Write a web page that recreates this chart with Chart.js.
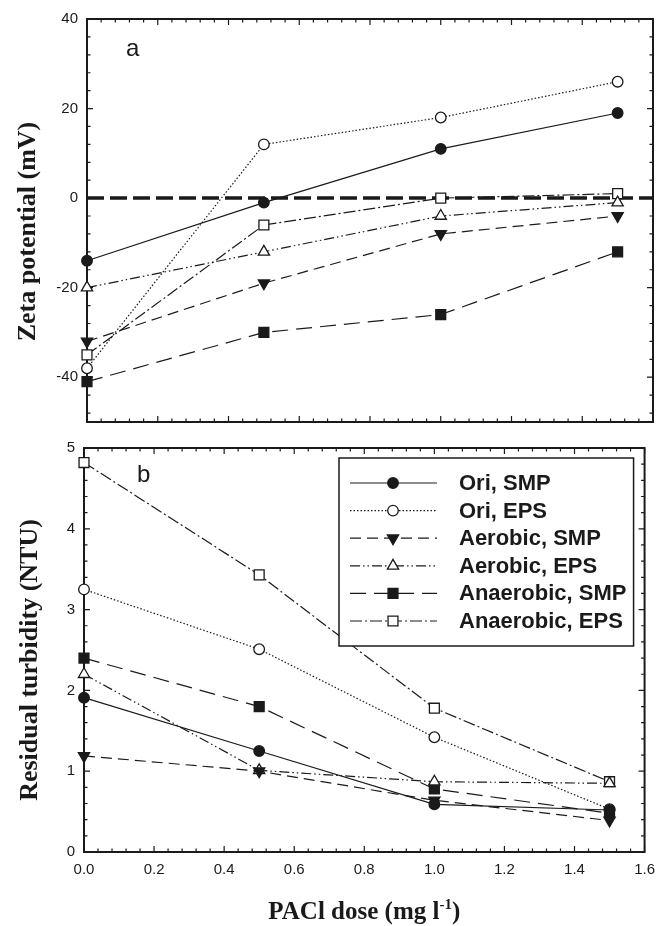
<!DOCTYPE html>
<html><head><meta charset="utf-8">
<script src="https://cdn.jsdelivr.net/npm/chart.js@4/dist/chart.umd.min.js"></script>
<style>
html,body{margin:0;padding:0;background:#fff;}
#wrap{position:relative;width:664px;height:926px;overflow:hidden;background:#fff;}
canvas{position:absolute;left:0;}
#c1{top:0;}
#c2{top:430px;}
</style></head><body>
<div id="wrap">
<canvas id="c1" width="664" height="440" style="width:664px;height:440px"></canvas>
<canvas id="c2" width="664" height="496" style="width:664px;height:496px"></canvas>
</div>
<script>
// ---------------- data ----------------
const doses = [0, 0.5, 1.0, 1.5];
const seriesNames = ['Ori, SMP', 'Ori, EPS', 'Aerobic, SMP', 'Aerobic, EPS', 'Anaerobic, SMP', 'Anaerobic, EPS'];

const zetaOriSMP = [-14, -1, 11, 19];
const zetaOriEPS = [-38, 12, 18, 26];
const zetaAerSMP = [-32, -19, -8, -4];
const zetaAerEPS = [-20, -12, -4, -1];
const zetaAnaSMP = [-41, -30, -26, -12];
const zetaAnaEPS = [-35, -6, 0, 1];

const turbOriSMP = [1.91, 1.25, 0.59, 0.52];
const turbOriEPS = [3.25, 2.51, 1.42, 0.53];
const turbAerSMP = [1.19, 1.00, 0.64, 0.39];
const turbAerEPS = [2.20, 1.01, 0.87, 0.85];
const turbAnaSMP = [2.40, 1.80, 0.78, 0.48];
const turbAnaEPS = [4.82, 3.43, 1.78, 0.87];

const zeroLineValue = 0;
const xTickValues = [0, 0.2, 0.4, 0.6, 0.8, 1.0, 1.2, 1.4, 1.6];
const zetaTickValues = [-40, -20, 0, 20, 40];
const turbTickValues = [0, 1, 2, 3, 4, 5];
const xLimits = [0, 1.6];
const zetaLimits = [-50, 40];
const turbLimits = [0, 5];

// ---------------- styles ----------------
const seriesStyles = [
  { pointStyle: 'circle',   filled: true,  radius: 5.3, rotation: 0,   dash: [] },
  { pointStyle: 'circle',   filled: false, radius: 5.3, rotation: 0,   dash: [1.5, 2] },
  { pointStyle: 'triangle', filled: true,  radius: 6.5, rotation: 180, dash: [11, 6] },
  { pointStyle: 'triangle', filled: false, radius: 6.5, rotation: 0,   dash: [10, 3, 1.5, 3, 1.5, 3] },
  { pointStyle: 'rect',     filled: true,  radius: 7,   rotation: 0,   dash: [16, 8] },
  { pointStyle: 'rect',     filled: false, radius: 7,   rotation: 0,   dash: [12, 3, 2, 3] }
];
const INK = '#1a1a1a';

function makeDatasets(seriesList) {
  return seriesList.map((vals, i) => {
    const s = seriesStyles[i];
    return {
      label: seriesNames[i],
      data: doses.map((d, k) => ({ x: d, y: vals[k] })),
      borderColor: INK,
      borderWidth: 1.2,
      borderDash: s.dash,
      pointStyle: s.pointStyle,
      pointRadius: s.radius,
      pointRotation: s.rotation,
      pointBackgroundColor: s.filled ? INK : '#fff',
      pointBorderColor: INK,
      pointBorderWidth: 1.3,
      fill: false,
      tension: 0,
      clip: false
    };
  });
}

function countSteps(min, max, step) { return Math.round((max - min) / step); }

function frameTicksPlugin(xMinor, xMajor, yMinor, yMajor) {
  return {
    id: 'frameTicks',
    beforeDatasetsDraw(chart) {
      const { ctx, chartArea: a, scales } = chart;
      const x = scales.x, y = scales.y;
      ctx.save();
      ctx.strokeStyle = INK;
      ctx.lineWidth = 1.2;
      ctx.beginPath();
      const nx = countSteps(x.min, x.max, xMinor);
      for (let i = 0; i <= nx; i++) {
        const v = x.min + i * xMinor;
        const r = v / xMajor;
        const major = Math.abs(r - Math.round(r)) < 1e-6;
        const len = major ? 6 : 3.5;
        const px = x.getPixelForValue(v);
        ctx.moveTo(px, a.bottom); ctx.lineTo(px, a.bottom - len);
        ctx.moveTo(px, a.top); ctx.lineTo(px, a.top + len);
      }
      const first = Math.ceil(y.min / yMinor) * yMinor;
      const ny = Math.floor((y.max - first) / yMinor + 1e-6);
      for (let i = 0; i <= ny; i++) {
        const v = first + i * yMinor;
        const r = v / yMajor;
        const major = Math.abs(r - Math.round(r)) < 1e-6;
        const len = major ? 6 : 3.5;
        const py = y.getPixelForValue(v);
        ctx.moveTo(a.left, py); ctx.lineTo(a.left + len, py);
        ctx.moveTo(a.right, py); ctx.lineTo(a.right - len, py);
      }
      ctx.stroke();
      ctx.lineWidth = 2;
      ctx.strokeRect(a.left, a.top, a.right - a.left, a.bottom - a.top);
      ctx.restore();
    }
  };
}

function drawMarker(ctx, s, x, y) {
  ctx.save();
  ctx.fillStyle = s.filled ? INK : '#fff';
  ctx.strokeStyle = INK;
  ctx.lineWidth = 1.3;
  ctx.setLineDash([]);
  ctx.beginPath();
  const r = s.radius;
  if (s.pointStyle === 'circle') {
    ctx.arc(x, y, r, 0, Math.PI * 2);
  } else if (s.pointStyle === 'rect') {
    const h = r * Math.SQRT1_2;
    ctx.rect(x - h, y - h, 2 * h, 2 * h);
  } else {
    let rad = s.rotation * Math.PI / 180;
    for (let k = 0; k < 3; k++) {
      const px = x + Math.sin(rad) * r, py = y - Math.cos(rad) * r;
      if (k === 0) ctx.moveTo(px, py); else ctx.lineTo(px, py);
      rad += 2 * Math.PI / 3;
    }
    ctx.closePath();
  }
  ctx.fill();
  ctx.stroke();
  ctx.restore();
}

function yTitle(ctx, text, cx, cy) {
  ctx.save();
  ctx.translate(cx, cy);
  ctx.rotate(-Math.PI / 2);
  ctx.font = 'bold 26px "Liberation Serif", "Times New Roman", serif';
  ctx.fillStyle = INK;
  ctx.textAlign = 'center';
  ctx.textBaseline = 'middle';
  ctx.fillText(text, 0, 0);
  ctx.restore();
}

const tickFont = { family: '"Liberation Sans", Arial, sans-serif', size: 15 };

// ---------------- top chart (a) ----------------
const zetaSeries = [zetaOriSMP, zetaOriEPS, zetaAerSMP, zetaAerEPS, zetaAnaSMP, zetaAnaEPS];
const topDatasets = makeDatasets(zetaSeries);
topDatasets.push({
  label: 'zero',
  data: xLimits.map(v => ({ x: v, y: zeroLineValue })),
  borderColor: INK,
  borderWidth: 3.5,
  borderDash: [17, 6],
  pointRadius: 0,
  fill: false,
  clip: false
});

new Chart(document.getElementById('c1'), {
  type: 'line',
  data: { datasets: topDatasets },
  options: {
    responsive: false,
    animation: false,
    layout: { padding: { top: 19, right: 11, bottom: 9, left: 0 } },
    plugins: { legend: { display: false }, tooltip: { enabled: false } },
    scales: {
      x: { type: 'linear', min: xLimits[0], max: xLimits[1], display: false },
      y: {
        type: 'linear', min: zetaLimits[0], max: zetaLimits[1],
        afterBuildTicks: (sc) => { sc.ticks = zetaTickValues.map(v => ({ value: v })); },
        afterFit: (sc) => { sc.width = 87; },
        grid: { display: false, drawTicks: false },
        border: { display: false },
        ticks: { font: tickFont, color: INK, padding: 9 }
      }
    }
  },
  plugins: [frameTicksPlugin(0.04, 0.2, 4, 20), {
    id: 'decor',
    afterDraw(chart) {
      const { ctx, chartArea: a } = chart;
      yTitle(ctx, 'Zeta potential (mV)', 28, (a.top + a.bottom) / 2 + 11);
      ctx.save();
      ctx.font = '24px "Liberation Sans", Arial, sans-serif';
      ctx.fillStyle = INK;
      ctx.textAlign = 'left';
      ctx.textBaseline = 'alphabetic';
      ctx.fillText('a', a.left + 39, a.top + 37);
      ctx.restore();
    }
  }]
});

// ---------------- bottom chart (b) ----------------
const turbSeries = [turbOriSMP, turbOriEPS, turbAerSMP, turbAerEPS, turbAnaSMP, turbAnaEPS];
const bottomDatasets = makeDatasets(turbSeries);

new Chart(document.getElementById('c2'), {
  type: 'line',
  data: { datasets: bottomDatasets },
  options: {
    responsive: false,
    animation: false,
    layout: { padding: { top: 13, right: 14, bottom: 0, left: 0 } },
    plugins: { legend: { display: false }, tooltip: { enabled: false } },
    scales: {
      x: {
        type: 'linear', min: xLimits[0], max: xLimits[1],
        afterBuildTicks: (sc) => { sc.ticks = xTickValues.map(v => ({ value: v })); },
        afterFit: (sc) => { sc.height = 74; },
        grid: { display: false, drawTicks: false },
        border: { display: false },
        ticks: { font: tickFont, color: INK, padding: 9, maxRotation: 0, autoSkip: false,
                 callback: (v) => Number(v).toFixed(1) }
      },
      y: {
        type: 'linear', min: turbLimits[0], max: turbLimits[1],
        afterBuildTicks: (sc) => { sc.ticks = turbTickValues.map(v => ({ value: v })); },
        afterFit: (sc) => { sc.width = 84; },
        grid: { display: false, drawTicks: false },
        border: { display: false },
        ticks: { font: tickFont, color: INK, padding: 9 }
      }
    }
  },
  plugins: [frameTicksPlugin(0.04, 0.2, 0.2, 1), {
    id: 'decor',
    afterDraw(chart) {
      const { ctx, chartArea: a } = chart;
      yTitle(ctx, 'Residual turbidity (NTU)', 30, (a.top + a.bottom) / 2 + 10);
      // panel letter
      ctx.save();
      ctx.font = '24px "Liberation Sans", Arial, sans-serif';
      ctx.fillStyle = INK;
      ctx.textAlign = 'left';
      ctx.textBaseline = 'alphabetic';
      ctx.fillText('b', a.left + 53, a.top + 34);
      ctx.restore();
      // x title with superscript
      ctx.save();
      ctx.fillStyle = INK;
      ctx.textBaseline = 'alphabetic';
      ctx.textAlign = 'left';
      const mainFont = 'bold 25px "Liberation Serif", "Times New Roman", serif';
      const supFont = 'bold 15px "Liberation Serif", "Times New Roman", serif';
      const p1 = 'PACl dose (mg l', p2 = '-1', p3 = ')';
      ctx.font = mainFont; const w1 = ctx.measureText(p1).width; const w3 = ctx.measureText(p3).width;
      ctx.font = supFont; const w2 = ctx.measureText(p2).width;
      const cx = (a.left + a.right) / 2;
      let xx = cx - (w1 + w2 + w3) / 2;
      const base = a.bottom + 67;
      ctx.font = mainFont; ctx.fillText(p1, xx, base); xx += w1;
      ctx.font = supFont; ctx.fillText(p2, xx, base - 10); xx += w2;
      ctx.font = mainFont; ctx.fillText(p3, xx, base);
      ctx.restore();
      // legend box
      const bx = a.left + 255, by = a.top + 10, bw = a.right - 11 - bx, bh = 188;
      ctx.save();
      ctx.fillStyle = '#fff';
      ctx.fillRect(bx, by, bw, bh);
      ctx.strokeStyle = INK;
      ctx.lineWidth = 1.5;
      ctx.strokeRect(bx, by, bw, bh);
      ctx.font = 'bold 22px "Liberation Sans", Arial, sans-serif';
      ctx.textBaseline = 'middle';
      ctx.textAlign = 'left';
      for (let i = 0; i < seriesNames.length; i++) {
        const s = seriesStyles[i];
        const yy = by + 25 + i * 27.6;
        ctx.save();
        ctx.strokeStyle = INK;
        ctx.lineWidth = 1.2;
        ctx.setLineDash(s.dash);
        ctx.beginPath();
        ctx.moveTo(bx + 11, yy);
        ctx.lineTo(bx + 98, yy);
        ctx.stroke();
        ctx.restore();
        drawMarker(ctx, s, bx + 54, yy);
        ctx.fillStyle = INK;
        ctx.fillText(seriesNames[i], bx + 120, yy + 1);
      }
      ctx.restore();
    }
  }]
});
</script>
</body></html>
